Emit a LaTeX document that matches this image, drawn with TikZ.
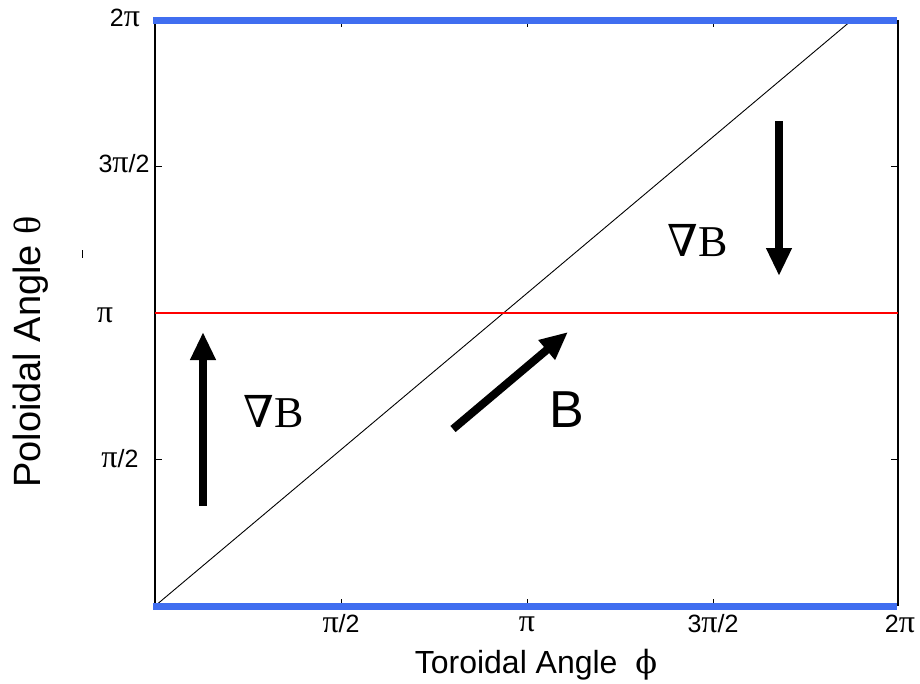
\documentclass[tikz,border=0pt]{standalone}
\usepackage{fontspec}
\setmainfont{Liberation Sans}
\newfontfamily\seriffont{Liberation Serif}
\newfontfamily\symbfont{DejaVu Serif}
\usetikzlibrary{arrows.meta}
\definecolor{axblue}{RGB}{64,110,240}
\newcommand{\gpi}{{\seriffont\fontsize{32}{34}\selectfont π}}
\tikzset{
  ticklbl/.style={font=\fontsize{25}{27}\selectfont, inner sep=0pt},
  axlbl/.style={font=\fontsize{32}{34}\selectfont, inner sep=0pt},
  bigarrow/.style={line width=8pt, -{Triangle[width=24pt,length=28pt]}},
  gradlbl/.style={font=\seriffont\fontsize{44}{46}\selectfont, inner sep=0pt},
  tick/.style={line width=0.8pt}
}
\begin{document}
\begin{tikzpicture}[x=1pt,y=-1pt]
\useasboundingbox (0,0) rectangle (920,683);
% frame sides
\draw[line width=1.3pt] (155,20) -- (155,606);
\draw[line width=1.3pt] (898,20) -- (898,606);
% ticks
\foreach \xx in {341,527,713}{
  \draw[tick] (\xx,606) -- (\xx,599);
  \draw[tick] (\xx,20) -- (\xx,27);
}
\foreach \yy in {166.5,313,459.5}{
  \draw[tick] (155,\yy) -- (162,\yy);
  \draw[tick] (898,\yy) -- (891,\yy);
}
% diagonal
\coordinate (d0) at (155,606);
\coordinate (d1) at (852,20);
\draw[line width=0.9pt] (d0) -- (d1);
% red line
\draw[red, line width=2.8pt] (155,313) -- (898,313);
% blue lines
\draw[axblue, line width=7pt] (153,20) -- (897,20);
\draw[axblue, line width=7pt] (153,606.5) -- (897,606.5);
% y tick labels
\node[ticklbl] (y4) at (125,18) {2\gpi};
\node[ticklbl] (y3) at (124,164) {3\gpi/2};
\node[ticklbl] (y2) at (105,315) {\gpi};
\node[ticklbl] (y1) at (120,459) {\gpi/2};
% x tick labels
\node[ticklbl] (x1) at (341,624) {\gpi/2};
\node[ticklbl] (x2) at (527,624) {\gpi};
\node[ticklbl] (x3) at (713,624) {3\gpi/2};
\node[ticklbl] (x4) at (900,624) {2\gpi};
% axis labels
\node[axlbl] (xl) at (536,665) {Toroidal Angle \ {\symbfont ϕ}};
\node[font=\fontsize{38}{40}\selectfont, inner sep=0pt, rotate=90] (yl) at (31,352) {Poloidal Angle {\seriffont θ}};
\draw[line width=0.7pt] (82,250) -- (82,258);
% arrows
\coordinate (a1s) at (203,506);
\coordinate (a1e) at (203,332);
\draw[bigarrow] (a1s) -- (a1e);
\coordinate (a2s) at (779,121);
\coordinate (a2e) at (779,276);
\draw[bigarrow] (a2s) -- (a2e);
\coordinate (a3s) at (453,429);
\coordinate (a3e) at (568,332);
\draw[bigarrow] (a3s) -- (a3e);
% labels
\node[gradlbl] (g1) at (274,412) {{\symbfont ∇}B};
\node[gradlbl] (g2) at (698,241) {{\symbfont ∇}B};
\node[font=\fontsize{52}{54}\selectfont, inner sep=0pt] (bl) at (567,410) {B};
\end{tikzpicture}
\end{document}
